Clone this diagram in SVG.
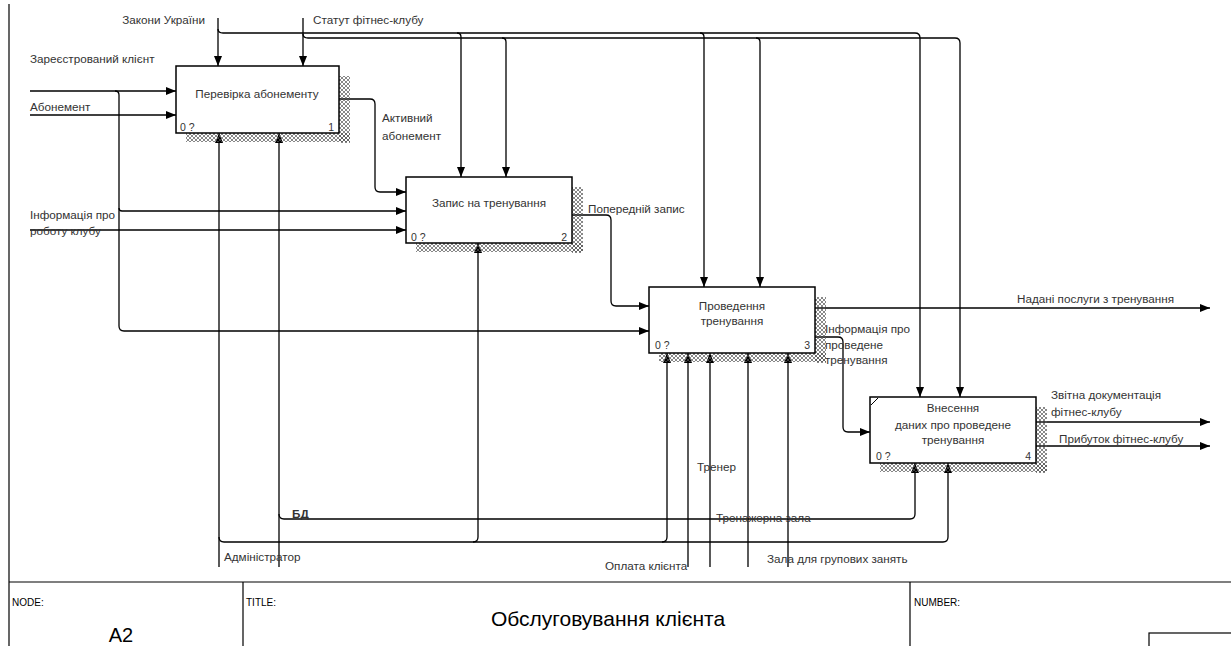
<svg xmlns="http://www.w3.org/2000/svg" width="1231" height="646" viewBox="0 0 1231 646">
<style>
.lbl{font-family:"Liberation Sans",Arial,sans-serif;font-size:11.7px;fill:#333}
.num{font-family:"Liberation Sans",Arial,sans-serif;font-size:10.5px;fill:#333}
.box{fill:#fff;stroke:#000;stroke-width:1.5}
.sh{fill:url(#hatch)}
.c{fill:none;stroke:#000;stroke-width:1.3}
.a{marker-end:url(#arr)}
.frame{fill:none;stroke:#000;stroke-width:1.2}
.tb{font-family:"Liberation Sans",Arial,sans-serif;fill:#000}
</style>
<defs>
<pattern id="hatch" width="4" height="4" patternUnits="userSpaceOnUse">
<path d="M0,0 L4,4 M4,0 L0,4" stroke="#555" stroke-width="0.7"/>
</pattern>
<marker id="arr" markerWidth="10" markerHeight="8" refX="10" refY="4" orient="auto" markerUnits="userSpaceOnUse">
<path d="M0,0 L10,4 L0,8 z" fill="#000"/>
</marker>
</defs>
<rect width="1231" height="646" fill="#fff"/>

<g id="frame">
<path class="frame" d="M9,4 V646"/>
<path class="frame" d="M9,582 H1231 M243,582 V646 M910,582 V646"/>
<rect class="frame" x="1149" y="633" width="90" height="20"/>
<text class="tb" x="12" y="606" font-size="10">NODE:</text>
<text class="tb" x="246" y="606" font-size="10">TITLE:</text>
<text class="tb" x="914" y="606" font-size="10">NUMBER:</text>
<text class="tb" x="608" y="626" font-size="21" text-anchor="middle">Обслуговування клієнта</text>
<text class="tb" x="121" y="642" font-size="20" text-anchor="middle">A2</text>
</g>

<g id="connectors">
<!-- Зареєстрований клієнт -->
<path class="c a" d="M30,91 H176"/>
<path class="c a" d="M115,91 q4,0 4,4 V326 q0,5 5,5 H649"/>
<path class="c a" d="M119,208 q0,3 3,3 H406"/>
<!-- Абонемент -->
<path class="c a" d="M30,115 H176"/>
<!-- Інформація про роботу клубу -->
<path class="c a" d="M30,230 H406"/>
<!-- Закони України -->
<path class="c a" d="M218,18 V66"/>
<path class="c a" d="M218,29 q0,4 5,4 H915 q5,0 5,5 V397"/>
<path class="c a" d="M457,33 q4,0 4,4 V177"/>
<path class="c a" d="M700,33 q4,0 4,4 V287"/>
<!-- Статут фітнес-клубу -->
<path class="c a" d="M303,18 V66"/>
<path class="c a" d="M303,34 q0,4 5,4 H955 q5,0 5,5 V397"/>
<path class="c a" d="M502,38 q4,0 4,4 V177"/>
<path class="c a" d="M756,38 q4,0 4,4 V287"/>
<!-- Активний абонемент -->
<path class="c a" d="M339,99 H370 q5,0 5,5 V187 q0,5 5,5 H406"/>
<!-- Попередній запис -->
<path class="c a" d="M572,215 H606 q5,0 5,5 V301 q0,5 5,5 H649"/>
<!-- Надані послуги -->
<path class="c a" d="M815,308 H1210"/>
<!-- Інформація про проведене тренування -->
<path class="c a" d="M815,337 H838 q5,0 5,5 V427 q0,5 5,5 H870"/>
<!-- Outputs of box 4 -->
<path class="c a" d="M1036,422 H1210"/>
<path class="c a" d="M1036,446 H1210"/>
<!-- Адміністратор -->
<path class="c a" d="M219,567 V133"/>
<path class="c a" d="M219,537 q0,5 5,5 H943 q5,0 5,-5 V463"/>
<path class="c a" d="M473,542 q5,0 5,-5 V243"/>
<path class="c a" d="M662,542 q5,0 5,-5 V353"/>
<!-- БД -->
<path class="c a" d="M279,567 V133"/>
<path class="c a" d="M279,514 q0,5 5,5 H910 q5,0 5,-5 V463"/>
<!-- Bottom mechanisms -->
<path class="c a" d="M688,567 V353"/>
<path class="c a" d="M710,567 V353"/>
<path class="c a" d="M748,567 V353"/>
<path class="c a" d="M788,567 V353"/>
</g>

<g id="labels">
<text class="lbl" x="205" y="24" text-anchor="end">Закони України</text>
<text class="lbl" x="313" y="24">Статут фітнес-клубу</text>
<text class="lbl" x="30" y="63">Зареєстрований клієнт</text>
<text class="lbl" x="30" y="111">Абонемент</text>
<text class="lbl" x="382" y="122">Активний</text>
<text class="lbl" x="382" y="140">абонемент</text>
<text class="lbl" x="30" y="219">Інформація про</text>
<text class="lbl" x="30" y="235">роботу клубу</text>
<text class="lbl" x="588" y="213">Попередній запис</text>
<text class="lbl" x="1017" y="303">Надані послуги з тренування</text>
<text class="lbl" x="825" y="333">Інформація про</text>
<text class="lbl" x="825" y="349">проведене</text>
<text class="lbl" x="825" y="364">тренування</text>
<text class="lbl" x="1051" y="399">Звітна документація</text>
<text class="lbl" x="1051" y="416">фітнес-клубу</text>
<text class="lbl" x="1059" y="443">Прибуток фітнес-клубу</text>
<text class="lbl" x="697" y="471">Тренер</text>
<text class="lbl" x="716" y="522">Тренажерна зала</text>
<text class="lbl" x="767" y="563">Зала для групових занять</text>
<text class="lbl" x="605" y="570">Оплата клієнта</text>
<text class="lbl" x="224" y="561">Адміністратор</text>
<text class="lbl" x="292" y="518" font-weight="bold">БД</text>
</g>

<g id="node1">
<rect class="sh" x="339" y="76" width="11" height="67"/>
<rect class="sh" x="186" y="133" width="164" height="9"/>
<rect class="box" x="176" y="66" width="163" height="67"/>
<text class="lbl" x="257" y="98" text-anchor="middle">Перевірка абонементу</text>
<text class="num" x="180" y="131">0 ?</text>
<text class="num" x="334" y="131" text-anchor="end">1</text>
</g>

<g id="node2">
<rect class="sh" x="572" y="187" width="11" height="66"/>
<rect class="sh" x="416" y="243" width="167" height="9"/>
<rect class="box" x="406" y="177" width="166" height="66"/>
<text class="lbl" x="489" y="207" text-anchor="middle">Запис на тренування</text>
<text class="num" x="411" y="241">0 ?</text>
<text class="num" x="567" y="241" text-anchor="end">2</text>
</g>

<g id="node3">
<rect class="sh" x="815" y="297" width="11" height="66"/>
<rect class="sh" x="659" y="353" width="167" height="9"/>
<rect class="box" x="649" y="287" width="166" height="66"/>
<text class="lbl" x="732" y="310" text-anchor="middle">Проведення</text>
<text class="lbl" x="732" y="325" text-anchor="middle">тренування</text>
<text class="num" x="655" y="349">0 ?</text>
<text class="num" x="810" y="349" text-anchor="end">3</text>
</g>

<g id="node4">
<rect class="sh" x="1036" y="407" width="11" height="66"/>
<rect class="sh" x="880" y="463" width="167" height="9"/>
<rect class="box" x="870" y="397" width="166" height="66"/>
<path d="M871,405 L878,398" stroke="#000" stroke-width="1"/>
<text class="lbl" x="953" y="412" text-anchor="middle">Внесення</text>
<text class="lbl" x="953" y="429" text-anchor="middle">даних про проведене</text>
<text class="lbl" x="953" y="444" text-anchor="middle">тренування</text>
<text class="num" x="876" y="460">0 ?</text>
<text class="num" x="1031" y="460" text-anchor="end">4</text>
</g>
</svg>
